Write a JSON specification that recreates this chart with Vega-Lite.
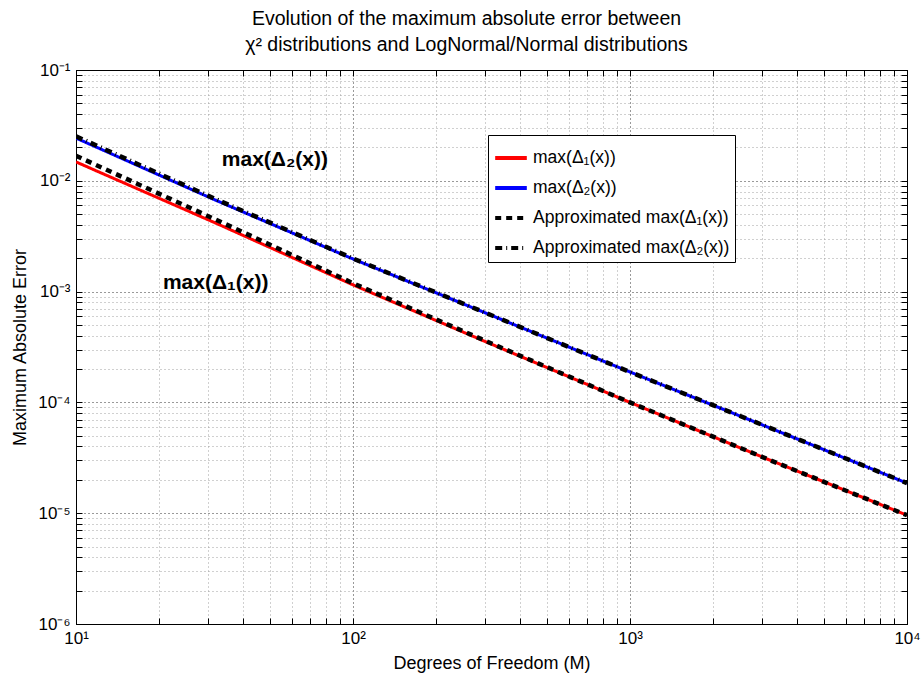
{
  "$schema": "https://vega.github.io/schema/vega-lite/v6.json",
  "width": 831,
  "height": 554,
  "autosize": {"type": "none"},
  "padding": {"left": 76, "top": 70, "right": 16, "bottom": 60},
  "background": "white",
  "config": {
    "font": "Liberation Sans",
    "view": {"stroke": "black", "strokeWidth": 1}
  },
  "title": {
    "text": ["Evolution of the maximum absolute error between", "χ² distributions and LogNormal/Normal distributions"],
    "fontSize": 19.5,
    "fontWeight": "normal",
    "lineHeight": 26,
    "offset": 6,
    "dx": -25,
    "anchor": "middle",
    "color": "black"
  },
  "datasets": {
    "curves": [
      {"M": 10, "err": 0.0148, "series": "max(Δ₁(x))"},
      {"M": 31.62, "err": 0.0042, "series": "max(Δ₁(x))"},
      {"M": 100, "err": 0.00115, "series": "max(Δ₁(x))"},
      {"M": 316.2, "err": 0.000335, "series": "max(Δ₁(x))"},
      {"M": 1000, "err": 0.0001, "series": "max(Δ₁(x))"},
      {"M": 3162, "err": 0.0000305, "series": "max(Δ₁(x))"},
      {"M": 10000, "err": 0.0000096, "series": "max(Δ₁(x))"},
      {"M": 10, "err": 0.0243, "series": "max(Δ₂(x))"},
      {"M": 31.62, "err": 0.00675, "series": "max(Δ₂(x))"},
      {"M": 100, "err": 0.00197, "series": "max(Δ₂(x))"},
      {"M": 316.2, "err": 0.00061, "series": "max(Δ₂(x))"},
      {"M": 1000, "err": 0.000188, "series": "max(Δ₂(x))"},
      {"M": 3162, "err": 0.0000595, "series": "max(Δ₂(x))"},
      {"M": 10000, "err": 0.0000187, "series": "max(Δ₂(x))"},
      {"M": 10, "err": 0.0168, "series": "Approximated max(Δ₁(x))"},
      {"M": 31.62, "err": 0.00452, "series": "Approximated max(Δ₁(x))"},
      {"M": 100, "err": 0.00119, "series": "Approximated max(Δ₁(x))"},
      {"M": 316.2, "err": 0.00034, "series": "Approximated max(Δ₁(x))"},
      {"M": 1000, "err": 0.0001, "series": "Approximated max(Δ₁(x))"},
      {"M": 3162, "err": 0.0000305, "series": "Approximated max(Δ₁(x))"},
      {"M": 10000, "err": 0.0000096, "series": "Approximated max(Δ₁(x))"},
      {"M": 10, "err": 0.0252, "series": "Approximated max(Δ₂(x))"},
      {"M": 31.62, "err": 0.0069, "series": "Approximated max(Δ₂(x))"},
      {"M": 100, "err": 0.00199, "series": "Approximated max(Δ₂(x))"},
      {"M": 316.2, "err": 0.000612, "series": "Approximated max(Δ₂(x))"},
      {"M": 1000, "err": 0.000188, "series": "Approximated max(Δ₂(x))"},
      {"M": 3162, "err": 0.0000596, "series": "Approximated max(Δ₂(x))"},
      {"M": 10000, "err": 0.0000187, "series": "Approximated max(Δ₂(x))"}
    ],
    "notes": [
      {"M": 33.6, "err": 0.0136, "label": "max(Δ₂(x))"},
      {"M": 20.6, "err": 0.001055, "label": "max(Δ₁(x))"}
    ]
  },
  "layer": [
    {
      "data": {"name": "curves"},
      "transform": [{"filter": "indexof(datum.series, 'Approximated') < 0"}],
      "mark": {"type": "line", "strokeWidth": 3, "clip": true},
      "encoding": {
        "x": {
          "field": "M", "type": "quantitative",
          "scale": {"type": "log", "domain": [10, 10000], "nice": false},
          "axis": {
            "orient": "bottom",
            "title": "Degrees of Freedom (M)",
            "titleFontSize": 18, "titleFontWeight": "normal", "titleColor": "black", "titlePadding": 8,
            "values": [10,20,30,40,50,60,70,80,90,100,200,300,400,500,600,700,800,900,1000,2000,3000,4000,5000,6000,7000,8000,9000,10000],
            "labelExpr": "datum.value == 10 ? '10¹' : datum.value == 100 ? '10²' : datum.value == 1000 ? '10³' : datum.value == 10000 ? '10⁴' : ''",
            "labelFontSize": 17, "labelColor": "black", "labelOverlap": false, "labelFlush": false,
            "labelPadding": 12,
            "tickSize": -6, "tickColor": "black",
            "domainColor": "black",
            "grid": true,
            "gridDash": [1, 3],
            "gridColor": {"condition": {"test": "abs(log(datum.value)/LN10 - round(log(datum.value)/LN10)) < 0.000001", "value": "#333333"}, "value": "#a0a0a0"}
          }
        },
        "y": {
          "field": "err", "type": "quantitative",
          "scale": {"type": "log", "domain": [0.000001, 0.1], "nice": false},
          "axis": {
            "orient": "left",
            "title": "Maximum Absolute Error",
            "titleFontSize": 18, "titleFontWeight": "normal", "titleColor": "black", "titlePadding": 8,
            "values": [0.000001,0.000002,0.000003,0.000004,0.000005,0.000006,0.000007,0.000008,0.000009,0.00001,0.00002,0.00003,0.00004,0.00005,0.00006,0.00007,0.00008,0.00009,0.0001,0.0002,0.0003,0.0004,0.0005,0.0006,0.0007,0.0008,0.0009,0.001,0.002,0.003,0.004,0.005,0.006,0.007,0.008,0.009,0.01,0.02,0.03,0.04,0.05,0.06,0.07,0.08,0.09,0.1],
            "labelExpr": "datum.value == 0.1 ? '10⁻¹' : datum.value == 0.01 ? '10⁻²' : datum.value == 0.001 ? '10⁻³' : datum.value == 0.0001 ? '10⁻⁴' : datum.value == 0.00001 ? '10⁻⁵' : datum.value == 0.000001 ? '10⁻⁶' : ''",
            "labelFontSize": 17, "labelColor": "black", "labelOverlap": false, "labelFlush": false,
            "labelPadding": 12,
            "tickSize": -6, "tickColor": "black",
            "domainColor": "black",
            "grid": true,
            "gridDash": [1, 3],
            "gridColor": {"condition": {"test": "abs(log(datum.value)/LN10 - round(log(datum.value)/LN10)) < 0.000001", "value": "#333333"}, "value": "#a0a0a0"}
          }
        },
        "color": {
          "field": "series", "type": "nominal",
          "scale": {"domain": ["max(Δ₁(x))", "max(Δ₂(x))", "Approximated max(Δ₁(x))", "Approximated max(Δ₂(x))"], "range": ["#ff0000", "#0000ff", "#000000", "#000000"]},
          "legend": {
            "orient": "none", "legendX": 412, "legendY": 65,
            "title": null,
            "strokeColor": "black", "fillColor": "white", "padding": 5,
            "symbolType": "stroke", "symbolSize": 1000, "symbolStrokeWidth": 4,
            "labelFontSize": 17.5, "labelColor": "black", "labelOffset": 4, "rowPadding": 3,
            "labelLimit": 400
          }
        },
        "strokeDash": {
          "field": "series", "type": "nominal",
          "scale": {"domain": ["max(Δ₁(x))", "max(Δ₂(x))", "Approximated max(Δ₁(x))", "Approximated max(Δ₂(x))"], "range": [[1, 0], [1, 0], [6, 5], [7, 4, 1, 4]]},
          "legend": {
            "orient": "none", "legendX": 412, "legendY": 65,
            "title": null,
            "strokeColor": "black", "fillColor": "white", "padding": 5,
            "symbolType": "stroke", "symbolSize": 1000, "symbolStrokeWidth": 4,
            "labelFontSize": 17.5, "labelColor": "black", "labelOffset": 4, "rowPadding": 3,
            "labelLimit": 400
          }
        }
      }
    },
    {
      "data": {"name": "curves"},
      "transform": [{"filter": "indexof(datum.series, 'Approximated') >= 0"}],
      "mark": {"type": "line", "strokeWidth": 4.5, "clip": true},
      "encoding": {
        "x": {
          "field": "M", "type": "quantitative",
          "axis": {
            "orient": "top", "title": null, "labels": false, "grid": false,
            "values": [10,20,30,40,50,60,70,80,90,100,200,300,400,500,600,700,800,900,1000,2000,3000,4000,5000,6000,7000,8000,9000,10000],
            "tickSize": -6, "tickColor": "black", "domainColor": "black"
          }
        },
        "y": {
          "field": "err", "type": "quantitative",
          "axis": {
            "orient": "right", "title": null, "labels": false, "grid": false,
            "values": [0.000001,0.000002,0.000003,0.000004,0.000005,0.000006,0.000007,0.000008,0.000009,0.00001,0.00002,0.00003,0.00004,0.00005,0.00006,0.00007,0.00008,0.00009,0.0001,0.0002,0.0003,0.0004,0.0005,0.0006,0.0007,0.0008,0.0009,0.001,0.002,0.003,0.004,0.005,0.006,0.007,0.008,0.009,0.01,0.02,0.03,0.04,0.05,0.06,0.07,0.08,0.09,0.1],
            "tickSize": -6, "tickColor": "black", "domainColor": "black"
          }
        },
        "color": {"field": "series", "type": "nominal"},
        "strokeDash": {"field": "series", "type": "nominal"}
      }
    },
    {
      "data": {"name": "notes"},
      "mark": {"type": "text", "fontSize": 21, "fontWeight": "bold", "align": "left", "baseline": "alphabetic", "color": "black"},
      "encoding": {
        "x": {"field": "M", "type": "quantitative", "axis": null},
        "y": {"field": "err", "type": "quantitative", "axis": null},
        "text": {"field": "label"}
      }
    }
  ],
  "resolve": {"axis": {"x": "independent", "y": "independent"}}
}
